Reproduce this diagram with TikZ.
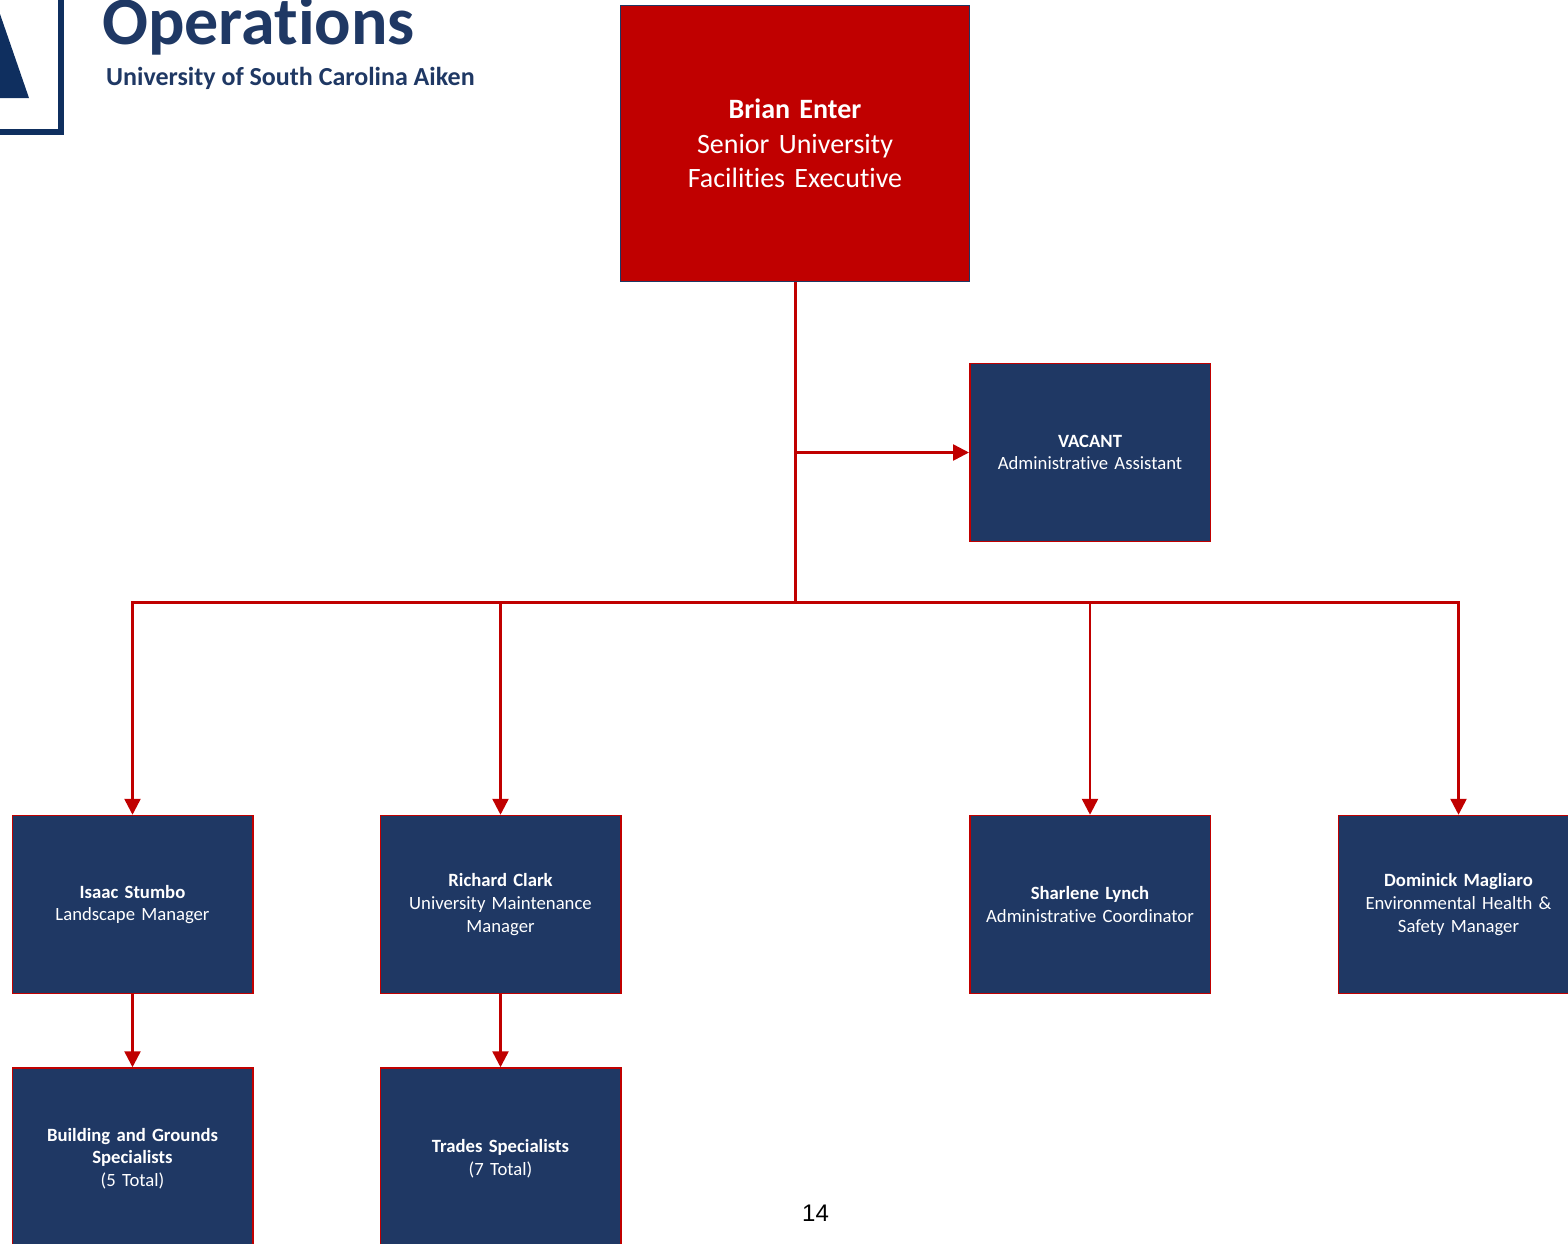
\documentclass[tikz,border=0pt]{standalone}
\usepackage{fontspec}
\setmainfont{Carlito}[Ligatures=NoCommon]
\newfontfamily\numfont{Liberation Sans}
\usetikzlibrary{arrows.meta}
\definecolor{navy}{HTML}{1F3864}
\definecolor{logonavy}{HTML}{0F2F5F}
\definecolor{redline}{HTML}{C00000}
\tikzset{
  x=1pt,y=-1pt,
  staffbox/.style={draw=redline,line width=1.5pt,fill=navy,text=white,minimum width=240.5pt,minimum height=178pt,inner sep=2pt,align=center,text width=232pt,font=\fontsize{18.7}{22.6}\selectfont},
  lowbox/.style={staffbox,minimum height=181pt},
  headbox/.style={draw=navy,line width=1.5pt,fill=redline,text=white,minimum width=349pt,minimum height=276pt,inner sep=2pt,align=center,text width=320pt,font=\fontsize{28}{34.4}\selectfont},
  conn/.style={draw=redline,line width=2.5pt},
  trunk/.style={draw=redline,line width=3pt},
  arrowconn/.style={conn,-{Triangle[length=16pt,width=16pt]}},
  brand/.style={text=navy,inner sep=0pt,anchor=base west},
}
\begin{document}
\begin{tikzpicture}
\useasboundingbox (0,0) rectangle (1568,1243);
\clip (0,0) rectangle (1568,1243);
% logo
\fill[logonavy] (0,14) -- (29,98) -- (0,98) -- cycle;
\draw[logonavy,line width=5.5pt] (61,-5) -- (61,132) -- (-5,132);
\node[brand,font=\fontsize{68}{68}\selectfont\bfseries] (optitle) at (102,44) {Operations};
\node[brand,font=\fontsize{26}{28}\selectfont\bfseries] (univ) at (106,85) {University of South Carolina Aiken};
% boxes
\node[headbox] (brian) at (795,143.5) {\textbf{Brian Enter}\\Senior University\\Facilities Executive};
\node[staffbox] (vacant) at (1090,452.5) {\textbf{VACANT}\\Administrative Assistant};
\node[staffbox] (isaac) at (132.5,904.5) {\textbf{Isaac Stumbo}\\Landscape Manager};
\node[staffbox] (richard) at (500.5,904.5) {\textbf{Richard Clark}\\University Maintenance\\Manager};
\node[staffbox] (sharlene) at (1090,904.5) {\textbf{Sharlene Lynch}\\Administrative Coordinator};
\node[staffbox] (dominick) at (1458.5,904.5) {\textbf{Dominick Magliaro}\\Environmental Health \&\\Safety Manager};
\node[lowbox] (grounds) at (132.5,1158.5) {\textbf{Building and Grounds}\\\textbf{Specialists}\\(5 Total)};
\node[lowbox] (trades) at (500.5,1158.5) {\textbf{Trades Specialists}\\(7 Total)};
\node[inner sep=0pt,font=\numfont\fontsize{24}{24}\selectfont] (pagenum) at (815.5,1213.5) {14};
% connectors
\coordinate (adminjoin) at (brian.south |- vacant.west);
\coordinate (busjoin) at (795,602.5);
\coordinate (busleft) at (isaac.north |- busjoin);
\coordinate (busright) at (dominick.north |- busjoin);
\draw[trunk] (brian.south) -- (busjoin);
\draw[arrowconn] (adminjoin) -- (vacant.west);
\draw[conn,line cap=rect] (busleft) -- (busright);
\draw[arrowconn] (busleft) -- (isaac.north);
\draw[arrowconn] (richard.north |- busjoin) -- (richard.north);
\draw[arrowconn] (sharlene.north |- busjoin) -- (sharlene.north);
\draw[arrowconn] (busright) -- (dominick.north);
\draw[arrowconn] (isaac.south) -- (grounds.north);
\draw[arrowconn] (richard.south) -- (trades.north);
\end{tikzpicture}
\end{document}
